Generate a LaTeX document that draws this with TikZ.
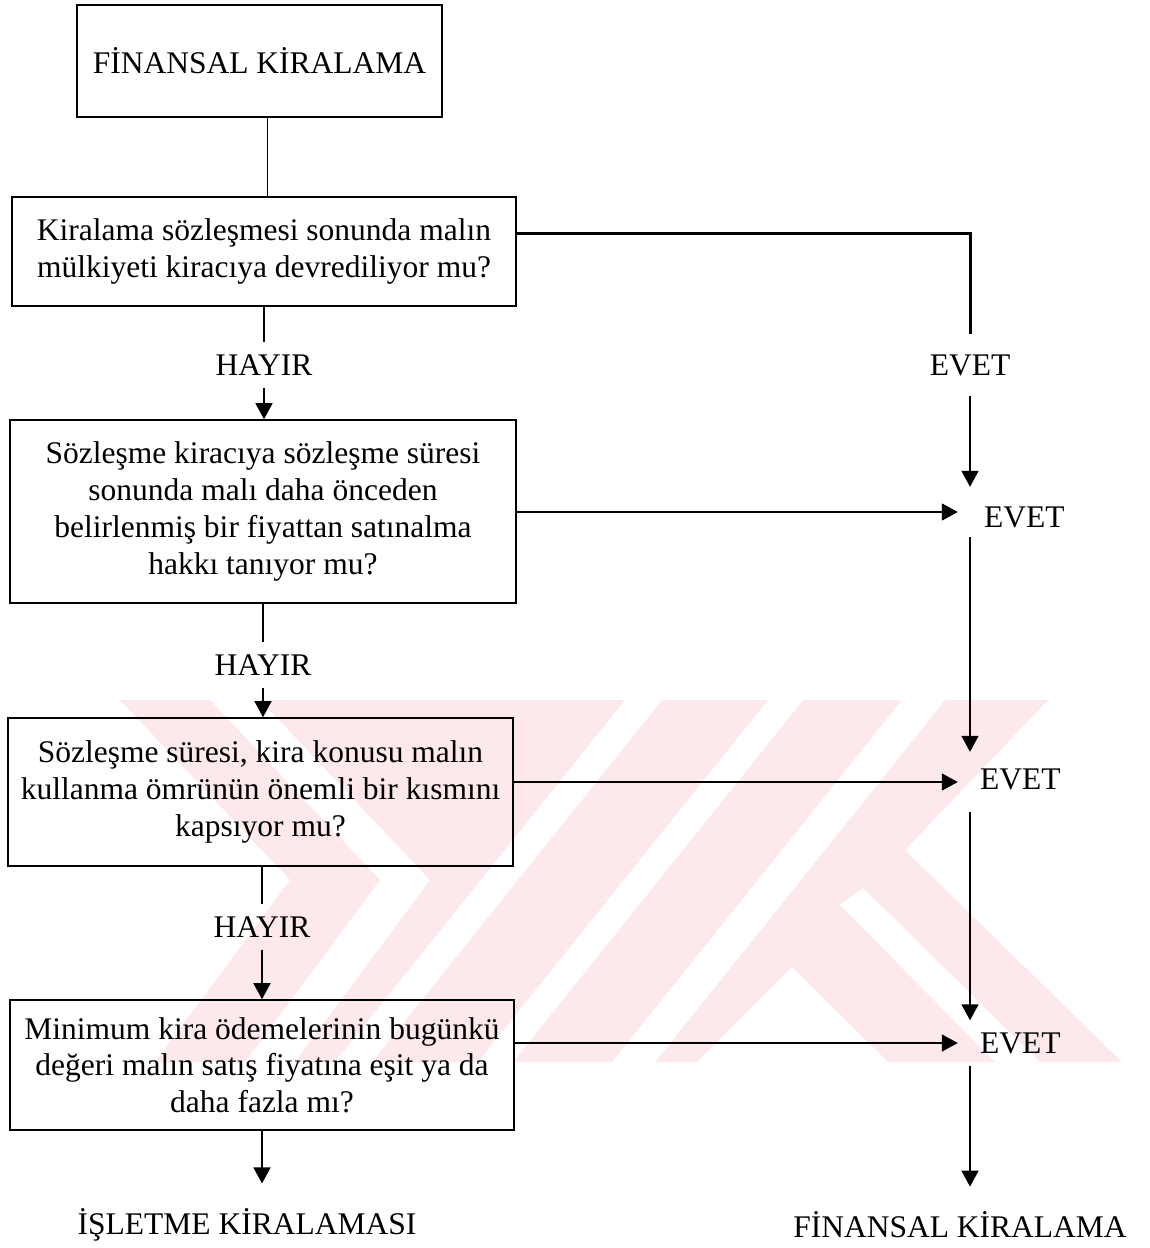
\documentclass[tikz,border=0pt]{standalone}
\usepackage{fontspec}
\setmainfont{Liberation Serif}
\usetikzlibrary{arrows.meta,positioning}
\definecolor{wm}{HTML}{FDE9EC}

\begin{document}
\begin{tikzpicture}[x=1pt,y=-1pt,>={Triangle[width=17pt,length=16pt]},
    font=\fontsize{31.5}{36.7}\selectfont,
    box/.style={draw,line width=1.6pt,align=center,inner sep=0pt},
    lbl/.style={inner sep=12pt},
    endlbl/.style={inner sep=0pt},
    jn/.style={inner sep=0pt,minimum width=24pt},
    conn/.style={line width=1.5pt}]
    \useasboundingbox (0,0) rectangle (1150,1248);

    % watermark in the background
    \fill[wm] (120,700) -- (210,700) -- (380,880) -- (245,1062)
      -- (155,1062) -- (290,880) -- cycle;
    \fill[wm] (260,700) -- (1048,700) -- (905,850) -- (1122,1062)
      -- (295,1062) -- (430,880) -- cycle;
    \fill[white] (625,700) -- (662,700) -- (372,1062) -- (335,1062) -- cycle;
    \fill[white] (768,700) -- (803,700) -- (513,1062) -- (478,1062) -- cycle;
    \fill[white] (902,700) -- (945,700) -- (655,1062) -- (612,1062) -- cycle;
    \fill[white] (840,905) -- (863,888) -- (1040,1062) -- (995,1062) -- cycle;
    \fill[white] (697,1062) -- (792,967) -- (888,1062) -- cycle;

    % boxes
    \node[box,minimum width=365pt,minimum height=112pt] (top) at (259.5,61) {FİNANSAL KİRALAMA};
    \node[box,minimum width=504pt,minimum height=109pt] (box1) at (264,251.5)
      {Kiralama sözleşmesi sonunda malın\\mülkiyeti kiracıya devrediliyor mu?};
    \node[box,minimum width=506pt,minimum height=183pt] (box2) at (263,511.5)
      {Sözleşme kiracıya sözleşme süresi\\sonunda malı daha önceden\\belirlenmiş bir fiyattan satınalma\\hakkı tanıyor mu?};
    \node[box,minimum width=505pt,minimum height=148pt] (box3) at (260.5,792)
      {Sözleşme süresi, kira konusu malın\\kullanma ömrünün önemli bir kısmını\\kapsıyor mu?};
    \node[box,minimum width=504pt,minimum height=130pt] (box4) at (262,1065)
      {Minimum kira ödemelerinin bugünkü\\değeri malın satış fiyatına eşit ya da\\daha fazla mı?};

    % answers
    \node[lbl] (hayir1) at (264,365) {HAYIR};
    \node[lbl] (hayir2) at (263,665) {HAYIR};
    \node[lbl] (hayir3) at (262,927) {HAYIR};
    \node[lbl,inner sep=20pt] (evet1) at (970,365) {EVET};
    \node[jn,minimum height=50pt] (j2) at (970,512) {};
    \node[jn,minimum height=60pt] (j3) at (970,782) {};
    \node[jn,minimum height=45pt] (j4) at (970,1043) {};
    \node[endlbl,anchor=west] (evet2) at (984,517) {EVET};
    \node[endlbl,anchor=west] (evet3) at (980,779) {EVET};
    \node[endlbl,anchor=west] (evet4) at (980,1043) {EVET};
    \node[endlbl] (isletme) at (247,1225) {İŞLETME KİRALAMASI};
    \node[endlbl] (finans) at (960,1225) {FİNANSAL KİRALAMA};

    % left column
    \draw[conn] ([xshift=8pt]top.south) -- ([xshift=8pt]top.south |- box1.north);
    \draw[conn] (hayir1 |- box1.south) -- (hayir1.north);
    \draw[conn,->] (hayir1.south) -- (hayir1 |- box2.north);
    \draw[conn] (hayir2 |- box2.south) -- (hayir2.north);
    \draw[conn,->] (hayir2.south) -- (hayir2 |- box3.north);
    \draw[conn] (hayir3 |- box3.south) -- (hayir3.north);
    \draw[conn,->] (hayir3.south) -- (hayir3 |- box4.north);
    \draw[conn,->,shorten >=25pt] (box4.south) -- (box4.south |- isletme.north);

    % right column
    \draw[line width=3pt] ([yshift=18.5pt]box1.east) -| (evet1.north);
    \draw[conn,->] (evet1.south) -- (j2.north);
    \draw[conn,->] (box2.east |- j2) -- (j2.west);
    \draw[conn,->] (j2.south) -- (j3.north);
    \draw[conn,->] (box3.east |- j3) -- (j3.west);
    \draw[conn,->] (j3.south) -- (j4.north);
    \draw[conn,->] (box4.east |- j4) -- (j4.west);
    \draw[conn,->,shorten >=25pt] (j4.south) -- (j4.south |- finans.north);
\end{tikzpicture}
\end{document}
